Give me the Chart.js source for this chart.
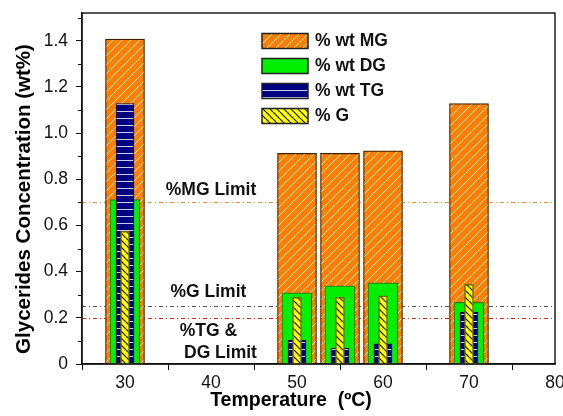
<!DOCTYPE html>
<html>
<head>
<meta charset="utf-8">
<script src="https://cdn.jsdelivr.net/npm/chart.js@4"></script>
<style>
  html, body { margin: 0; padding: 0; background: #fff; }
</style>
</head>
<body>
<canvas id="bieudo" width="563" height="416"></canvas>
<script>
// data
const temperatures = [30, 50, 55, 60, 70];
const mgValues = [1.407, 0.912, 0.912, 0.923, 1.128];
const dgValues = [0.712, 0.308, 0.338, 0.351, 0.267];
const tgValues = [1.128, 0.104, 0.069, 0.087, 0.225];
const gValues = [0.575, 0.289, 0.289, 0.295, 0.345];
const seriesLabels = ['% wt MG', '% wt DG', '% wt TG', '% G'];

const xTicks = [30, 40, 50, 60, 70, 80];
const xMinorTicks = [25, 35, 45, 55, 65, 75];
const yTicks = [0, 0.2, 0.4, 0.6, 0.8, 1.0, 1.2, 1.4];
const yMinorTicks = [0.1, 0.3, 0.5, 0.7, 0.9, 1.1, 1.3, 1.5];

// limit lines and their labels
const limitValues = [0.7, 0.25, 0.2];
const limitColors = ['#f0913a', '#555555', '#ff1a1a'];
const limitTexts = ['%MG Limit', '%G Limit', '%TG &', 'DG Limit'];
const limitTextX = [40, 39.7, 39.7, 41.1];
const limitTextY = [0.751, 0.309, 0.14, 0.049];

const ctx = document.getElementById('bieudo').getContext('2d');

function hatch(bg, line, size, kind, lw) {
  const c = document.createElement('canvas');
  c.width = size; c.height = size;
  const g = c.getContext('2d');
  g.fillStyle = bg;
  g.fillRect(0, 0, size, size);
  g.strokeStyle = line;
  g.lineWidth = lw || 1;
  g.beginPath();
  if (kind === 'horiz') {
    g.moveTo(0, size - 0.5); g.lineTo(size, size - 0.5);
  } else {
    for (const k of [-1, 0, 1]) {
      if (kind === 'fwd') { g.moveTo(k * size, size); g.lineTo(k * size + size, 0); }
      else { g.moveTo(k * size, 0); g.lineTo(k * size + size, size); }
    }
  }
  g.stroke();
  return ctx.createPattern(c, 'repeat');
}

const mgFill = hatch('#ff8000', 'rgba(255,255,255,0.85)', 9, 'fwd', 1);
const dgFill = '#00f000';
const tgFill = hatch('#000080', 'rgba(225,225,245,0.9)', 7, 'horiz', 1);
const gFill = hatch('#ffff00', '#111111', 7, 'back', 1.2);

function pts(vals) {
  return temperatures.map((t, i) => ({ x: t, y: vals[i] }));
}

const seriesFills = [mgFill, dgFill, tgFill, gFill];
const seriesBorders = ['#3a2200', '#2a7a10', '#0a0a50', '#6a6a00'];

// draw limit lines behind the bars
const limitPlugin = {
  id: 'limits',
  beforeDatasetsDraw(chart) {
    const c = chart.ctx, a = chart.chartArea, ys = chart.scales.y;
    c.save();
    c.lineWidth = 1;
    c.setLineDash([4, 3, 1, 3]);
    limitValues.forEach((v, i) => {
      const py = Math.round(ys.getPixelForValue(v)) + 0.5;
      c.strokeStyle = limitColors[i];
      c.beginPath();
      c.moveTo(a.left, py);
      c.lineTo(a.right, py);
      c.stroke();
    });
    c.restore();
  },
  afterDatasetsDraw(chart) {
    const c = chart.ctx, xs = chart.scales.x, ys = chart.scales.y;
    c.save();
    c.fillStyle = '#111';
    c.font = 'bold 17.5px "Liberation Sans", Arial, sans-serif';
    c.textAlign = 'center';
    c.textBaseline = 'middle';
    limitTexts.forEach((t, i) => {
      c.fillText(t, xs.getPixelForValue(limitTextX[i]), ys.getPixelForValue(limitTextY[i]));
    });
    c.restore();
  }
};

// frame, minor ticks, axis titles and legend box
const framePlugin = {
  id: 'frame',
  afterDraw(chart) {
    const c = chart.ctx, a = chart.chartArea, xs = chart.scales.x, ys = chart.scales.y;
    c.save();
    c.strokeStyle = '#111';
    c.lineWidth = 1.4;
    c.strokeRect(a.left, a.top, a.right - a.left, a.bottom - a.top);

    c.lineWidth = 1;
    c.beginPath();
    xMinorTicks.forEach(v => {
      const px = Math.round(xs.getPixelForValue(v)) + 0.5;
      c.moveTo(px, a.bottom); c.lineTo(px, a.bottom + 4);
    });
    yMinorTicks.forEach(v => {
      const py = Math.round(ys.getPixelForValue(v)) + 0.5;
      c.moveTo(a.left, py); c.lineTo(a.left - 4, py);
    });
    c.stroke();

    // axis titles
    c.fillStyle = '#000';
    c.font = 'bold 19.5px "Liberation Sans", Arial, sans-serif';
    c.textAlign = 'center';
    c.textBaseline = 'middle';
    c.fillText('Temperature  (\u00baC)', 291, 401);
    c.translate(24, 199);
    c.rotate(-Math.PI / 2);
    c.font = 'bold 20.5px "Liberation Sans", Arial, sans-serif';
    c.fillText('Glycerides Concentration (wt%)', 0, 0);
    c.restore();

    // legend
    c.save();
    c.font = 'bold 17.5px "Liberation Sans", Arial, sans-serif';
    c.textBaseline = 'middle';
    c.textAlign = 'left';
    seriesLabels.forEach((lab, i) => {
      const top = 33.5 + i * 25;
      c.fillStyle = seriesFills[i];
      c.fillRect(262, top, 46, 15);
      c.lineWidth = 1.5;
      c.strokeStyle = '#222';
      c.strokeRect(262, top, 46, 15);
      c.fillStyle = '#111';
      c.fillText(lab, 315, top + 8);
    });
    c.restore();
  }
};

new Chart(ctx, {
  type: 'bar',
  data: {
    datasets: [
      { label: seriesLabels[0], data: pts(mgValues), backgroundColor: mgFill, borderColor: seriesBorders[0], borderWidth: 1.2, barThickness: 39, order: 4 },
      { label: seriesLabels[1], data: pts(dgValues), backgroundColor: dgFill, borderColor: seriesBorders[1], borderWidth: 1.2, barThickness: 30, order: 3 },
      { label: seriesLabels[2], data: pts(tgValues), backgroundColor: tgFill, borderColor: seriesBorders[2], borderWidth: 1, barThickness: 18, order: 2 },
      { label: seriesLabels[3], data: pts(gValues), backgroundColor: gFill, borderColor: seriesBorders[3], borderWidth: 1.5, barThickness: 9, order: 1 }
    ]
  },
  options: {
    responsive: false,
    animation: false,
    grouped: false,
    layout: { padding: { left: 30, right: 8, top: 13, bottom: 0 } },
    plugins: { legend: { display: false }, tooltip: { enabled: false } },
    scales: {
      x: {
        type: 'linear',
        min: 25, max: 80,
        offset: false,
        afterBuildTicks: s => { s.ticks = xTicks.map(v => ({ value: v })); },
        afterFit: s => { s.height = 52; s.paddingLeft = 0; s.paddingRight = 0; },
        grid: { drawOnChartArea: false, tickLength: 6, color: '#111', tickWidth: 1 },
        border: { display: true, color: '#111', width: 1.4 },
        ticks: { color: '#111', padding: 3, maxRotation: 0, font: { family: '"Liberation Sans", Arial, sans-serif', size: 17.5 } }
      },
      y: {
        min: 0, max: 1.52,
        afterBuildTicks: s => { s.ticks = yTicks.map(v => ({ value: v })); },
        afterFit: s => { s.width = 52; s.paddingTop = 0; s.paddingBottom = 0; },
        grid: { drawOnChartArea: false, tickLength: 6, color: '#111', tickWidth: 1 },
        border: { display: true, color: '#111', width: 1.4 },
        ticks: {
          color: '#111', padding: 8,
          font: { family: '"Liberation Sans", Arial, sans-serif', size: 17.5 },
          callback: v => (v === 0 ? '0' : v.toFixed(1))
        }
      }
    }
  },
  plugins: [limitPlugin, framePlugin]
});
</script>
</body>
</html>
